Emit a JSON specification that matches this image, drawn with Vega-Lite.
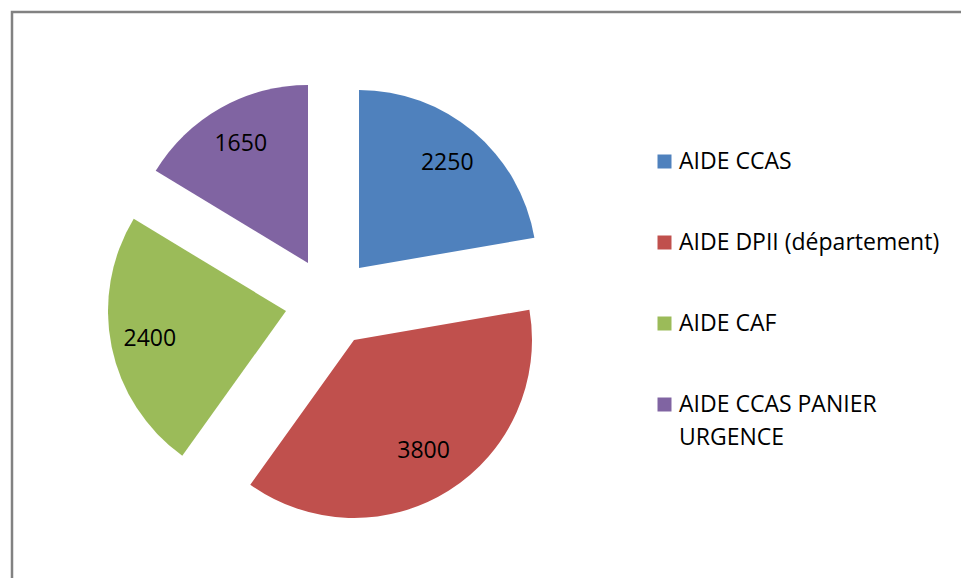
{
  "$schema": "https://vega.github.io/schema/vega-lite/v6.json",
  "padding": {"left": 10, "top": 10, "right": 0, "bottom": 0},
  "background": "white",
  "spacing": 0,
  "bounds": "flush",
  "data": {
    "values": [
      {"categorie": "AIDE CCAS", "montant": 2250, "ordre": 1},
      {"categorie": "AIDE DPII (département)", "montant": 3800, "ordre": 2},
      {"categorie": "AIDE CAF", "montant": 2400, "ordre": 3},
      {"categorie": "AIDE CCAS PANIER URGENCE", "montant": 1650, "ordre": 4}
    ]
  },
  "config": {
    "font": "Open Sans",
    "style": {"guide-label": {"lineHeight": 33}}
  },
  "hconcat": [
    {
      "width": 636,
      "height": 580,
      "view": {"stroke": "#828282", "strokeWidth": 2.5, "strokeCap": "butt", "strokeDash": [636, 1216, 580]},
      "encoding": {
        "theta": {"field": "montant", "type": "quantitative", "stack": true},
        "order": {"field": "ordre", "type": "quantitative"},
        "color": {
          "field": "categorie",
          "type": "nominal",
          "scale": {
            "domain": ["AIDE CCAS", "AIDE DPII (département)", "AIDE CAF", "AIDE CCAS PANIER URGENCE"],
            "range": ["#4F81BD", "#C0504D", "#9BBB59", "#8064A2"]
          },
          "legend": {
            "title": null,
            "orient": "none",
            "legendX": 641,
            "legendY": 138,
            "padding": 0,
            "symbolType": "square",
            "symbolSize": 196,
            "symbolStrokeWidth": 0,
            "labelFont": "Open Sans",
            "labelFontSize": 23,
            "labelColor": "#000000",
            "labelOffset": 3,
            "labelLimit": 400,
            "rowPadding": 57,
            "labelExpr": "datum.label == 'AIDE CCAS PANIER URGENCE' ? ['AIDE CCAS PANIER', 'URGENCE'] : datum.label"
          }
        }
      },
      "layer": [
        {
          "mark": {"type": "arc", "radius": 178, "xOffset": 29, "yOffset": -34},
          "encoding": {"opacity": {"condition": {"test": "datum.ordre == 1", "value": 1}, "value": 0}}
        },
        {
          "mark": {"type": "arc", "radius": 178, "xOffset": 24, "yOffset": 38},
          "encoding": {"opacity": {"condition": {"test": "datum.ordre == 2", "value": 1}, "value": 0}}
        },
        {
          "mark": {"type": "arc", "radius": 178, "xOffset": -44, "yOffset": 9},
          "encoding": {"opacity": {"condition": {"test": "datum.ordre == 3", "value": 1}, "value": 0}}
        },
        {
          "mark": {"type": "arc", "radius": 178, "xOffset": -22, "yOffset": -39},
          "encoding": {"opacity": {"condition": {"test": "datum.ordre == 4", "value": 1}, "value": 0}}
        },
        {
          "mark": {"type": "text", "radius": 137, "xOffset": 29, "yOffset": -34, "fontSize": 23, "font": "Open Sans", "align": "center", "baseline": "middle"},
          "encoding": {
            "text": {"field": "montant", "type": "nominal"},
            "color": {"value": "#000000"},
            "opacity": {"condition": {"test": "datum.ordre == 1", "value": 1}, "value": 0}
          }
        },
        {
          "mark": {"type": "text", "radius": 131, "xOffset": 24, "yOffset": 38, "fontSize": 23, "font": "Open Sans", "align": "center", "baseline": "middle"},
          "encoding": {
            "text": {"field": "montant", "type": "nominal"},
            "color": {"value": "#000000"},
            "opacity": {"condition": {"test": "datum.ordre == 2", "value": 1}, "value": 0}
          }
        },
        {
          "mark": {"type": "text", "radius": 139, "xOffset": -44, "yOffset": 9, "fontSize": 23, "font": "Open Sans", "align": "center", "baseline": "middle"},
          "encoding": {
            "text": {"field": "montant", "type": "nominal"},
            "color": {"value": "#000000"},
            "opacity": {"condition": {"test": "datum.ordre == 3", "value": 1}, "value": 0}
          }
        },
        {
          "mark": {"type": "text", "radius": 137, "xOffset": -22, "yOffset": -39, "fontSize": 23, "font": "Open Sans", "align": "center", "baseline": "middle"},
          "encoding": {
            "text": {"field": "montant", "type": "nominal"},
            "color": {"value": "#000000"},
            "opacity": {"condition": {"test": "datum.ordre == 4", "value": 1}, "value": 0}
          }
        }
      ]
    },
    {
      "width": 315,
      "height": 580,
      "view": {"stroke": "#828282", "strokeWidth": 2.5, "strokeCap": "butt", "strokeDash": [315, 5000]},
      "mark": {"type": "point", "opacity": 0},
      "encoding": {}
    }
  ]
}
